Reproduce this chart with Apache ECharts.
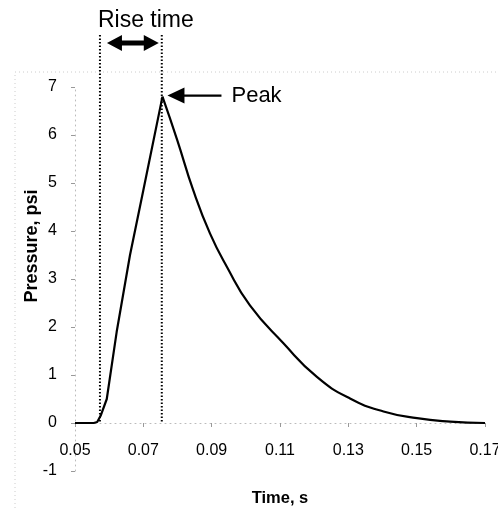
<!DOCTYPE html>
<html>
<head>
<meta charset="utf-8">
<script src="https://cdn.jsdelivr.net/npm/echarts@6/dist/echarts.min.js"></script>
<style>
html,body{margin:0;padding:0;background:#fff;}
#chart{width:498px;height:510px;}
</style>
</head>
<body>
<div id="chart"></div>
<script>
// Time (s) and pressure (psi)
const riseTime = [0.050, 0.053, 0.0555, 0.0565, 0.0575, 0.0593, 0.0622, 0.0661, 0.0700, 0.0756];
const risePressure = [0, 0, 0, 0.02, 0.15, 0.5, 1.9, 3.5, 4.85, 6.8];
const decayTime = [0.0756, 0.0799, 0.0846, 0.0895, 0.0944, 0.1012, 0.1110, 0.1208, 0.1305, 0.1403, 0.1501, 0.1598, 0.1700];
const decayPressure = [6.8, 5.90, 4.85, 3.95, 3.26, 2.45, 1.66, 0.96, 0.51, 0.24, 0.10, 0.03, 0.0];
const xTicks = [0.05, 0.07, 0.09, 0.11, 0.13, 0.15, 0.17];
const yTicks = [-1, 0, 1, 2, 3, 4, 5, 6, 7];
const riseStartMark = 0.0573;
const peakMark = 0.0754;
const peakPoint = [0.0756, 6.8];

const FONT = "'Liberation Sans', Arial, Helvetica, sans-serif";
const chart = echarts.init(document.getElementById('chart'), null, {renderer: 'canvas'});

const zip = (a, b) => a.map((v, i) => [v, b[i]]);

chart.setOption({
  animation: false,
  backgroundColor: '#fff',
  grid: {left: 75, right: 13, top: 87, bottom: 39, containLabel: false, outerBoundsMode: 'none'},
  xAxis: {
    type: 'value',
    min: xTicks[0], max: xTicks[xTicks.length - 1], interval: 0.02,
    name: 'Time, s', nameLocation: 'middle', nameGap: 19,
    nameTextStyle: {fontFamily: FONT, fontSize: 16.5, fontWeight: 'bold', color: '#000'},
    axisLine: {onZero: true, lineStyle: {color: '#bbb', type: [1, 4], width: 1}},
    axisTick: {show: true, inside: false, length: 4, lineStyle: {color: '#999'}},
    axisLabel: {fontFamily: FONT, fontSize: 16, color: '#000', margin: -28,
      formatter: v => v.toFixed(2)},
    splitLine: {show: false}
  },
  yAxis: {
    type: 'value',
    min: yTicks[0], max: yTicks[yTicks.length - 1], interval: 1,
    axisLine: {onZero: false, lineStyle: {color: '#bbb', type: [1, 4], width: 1}},
    axisTick: {show: true, inside: false, length: 4, lineStyle: {color: '#999'}},
    axisLabel: {fontFamily: FONT, fontSize: 16, color: '#000', margin: 18},
    splitLine: {show: false}
  },
  series: [
    {type: 'line', data: zip(riseTime, risePressure), showSymbol: false, smooth: false,
     lineStyle: {color: '#000', width: 2.2}, z: 5},
    {type: 'line', data: zip(decayTime, decayPressure), showSymbol: false, smooth: 0.5,
     lineStyle: {color: '#000', width: 2.2}, z: 5}
  ]
});

function px(x, y) { return chart.convertToPixel({xAxisIndex: 0, yAxisIndex: 0}, [x, y]); }

const x1 = px(riseStartMark, 0)[0];
const x2 = px(peakMark, 0)[0];
const y0 = px(riseStartMark, 0)[1];
const pk = px(peakPoint[0], peakPoint[1]);
const topY = 35;
const arrowY = 43;

// double headed arrow
const aL = x1 + 7, aR = x2 - 3, hl = 15, hh = 8, sh = 2.5;
const riseArrow = [
  [aL, arrowY], [aL + hl, arrowY - hh], [aL + hl, arrowY - sh], [aR - hl, arrowY - sh],
  [aR - hl, arrowY - hh], [aR, arrowY], [aR - hl, arrowY + hh], [aR - hl, arrowY + sh],
  [aL + hl, arrowY + sh], [aL + hl, arrowY + hh]
];

const tipX = pk[0] + 5, tipY = pk[1] - 1;
const peakArrow = [
  [tipX, tipY], [tipX + 17, tipY - 8], [tipX + 17, tipY - 1.2], [tipX + 54, tipY - 1.2],
  [tipX + 54, tipY + 1.2], [tipX + 17, tipY + 1.2], [tipX + 17, tipY + 8]
];

chart.setOption({
  graphic: [
    {type: 'rect', shape: {x: 15, y: 72, width: 500, height: 460}, silent: true, z: 0,
     style: {fill: 'none', stroke: '#ccc', lineWidth: 1, lineDash: [1, 3]}},
    {type: 'line', shape: {x1: x1, y1: topY, x2: x1, y2: y0}, z: 10,
     style: {stroke: '#000', lineWidth: 2, lineDash: [1.5, 2]}},
    {type: 'line', shape: {x1: x2, y1: topY, x2: x2, y2: y0}, z: 10,
     style: {stroke: '#000', lineWidth: 2, lineDash: [1.5, 2]}},
    {type: 'polygon', shape: {points: riseArrow}, z: 10, style: {fill: '#000'}},
    {type: 'text', x: (x1 + x2) / 2 + 15, y: 21, z: 10,
     style: {text: 'Rise time', font: '23px ' + FONT, fill: '#000', textAlign: 'center', textVerticalAlign: 'middle'}},
    {type: 'polygon', shape: {points: peakArrow}, z: 10, style: {fill: '#000'}},
    {type: 'text', x: tipX + 64, y: tipY, z: 10,
     style: {text: 'Peak', font: '22px ' + FONT, fill: '#000', textAlign: 'left', textVerticalAlign: 'middle'}},
    {type: 'text', x: 32, y: 246, rotation: Math.PI / 2, z: 10,
     style: {text: 'Pressure, psi', font: 'bold 18px ' + FONT, fill: '#000', textAlign: 'center', textVerticalAlign: 'middle'}}
  ]
});
</script>
</body>
</html>
